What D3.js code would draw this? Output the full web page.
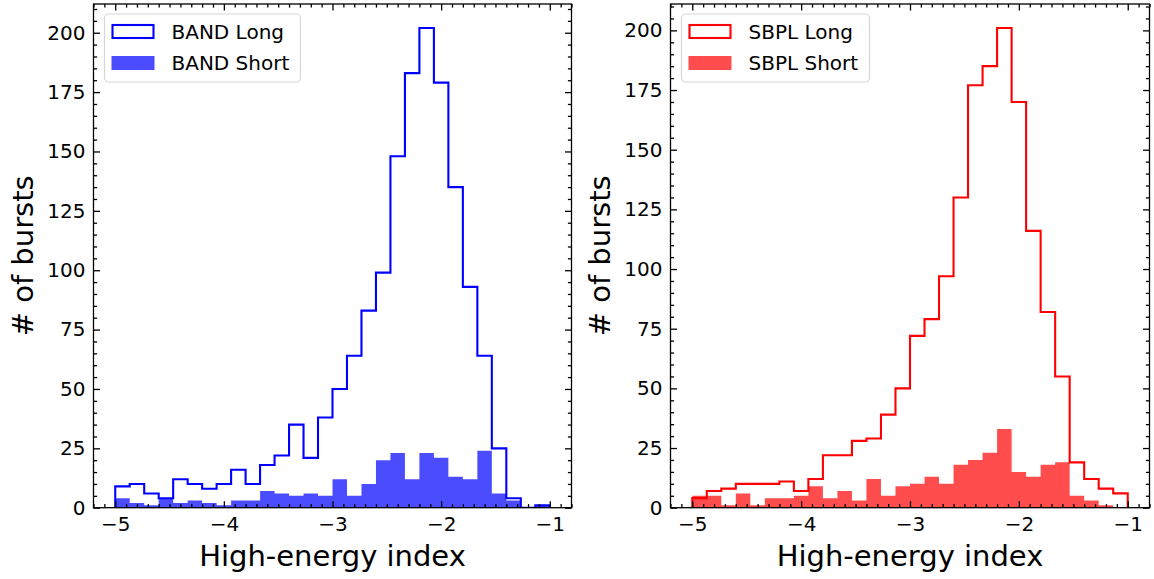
<!DOCTYPE html>
<html>
<head>
<meta charset="utf-8">
<script src="https://cdn.jsdelivr.net/npm/d3@7"></script>
<style>
  html, body { margin: 0; padding: 0; background: #ffffff; }
  svg { display: block; font-family: "DejaVu Sans", sans-serif; }
</style>
</head>
<body>
<svg id="chart" width="1154" height="579"></svg>
<script>
// Histogram binning of the high-energy spectral index
const binLo = -5;
const binHi = -1;
const binCount = 30;

// Counts per bin, BAND fits
const bandLong  = [9, 10, 6, 4, 12, 10, 8, 10, 16, 10, 18, 22, 35, 21, 38, 50, 64, 83, 99, 148, 183, 202, 179, 135, 93, 64, 25, 4, 0, 1];
const bandShort = [4, 2, 1, 4, 2, 3, 2, 1, 3, 3, 7, 6, 5, 6, 5, 12, 5, 10, 20, 23, 12, 23, 21, 13, 12, 24, 6, 3, 0, 1];

// Counts per bin, SBPL fits
const sbplLong  = [4, 7, 8, 10, 10, 10, 11, 7, 12, 22, 22, 28, 29, 39, 50, 72, 79, 97, 130, 177, 185, 201, 170, 116, 82, 55, 19, 12, 8, 6];
const sbplShort = [5, 5, 1, 6, 1, 4, 4, 5, 9, 4, 7, 3, 12, 5, 9, 10, 13, 10, 18, 20, 23, 33, 15, 13, 18, 19, 5, 3, 1, 0];

// Axis ticks and labels
const xMajorTicks = [-5, -4, -3, -2, -1];
const yMajorTicks = [0, 25, 50, 75, 100, 125, 150, 175, 200];
const xLabel = "High-energy index";
const yLabel = "# of bursts";

const svg = d3.select("#chart");
const edges = d3.range(binCount + 1).map(i => binLo + i * (binHi - binLo) / binCount);

function drawPanel(opt) {
  const { left, right, top, bottom, longData, shortData, color, shortColor, names } = opt;
  const span = binHi - binLo;
  const x = d3.scaleLinear().domain([binLo - 0.05 * span, binHi + 0.05 * span]).range([left, right]);
  const yMax = d3.max(longData.concat(shortData)) * 1.05;
  const y = d3.scaleLinear().domain([0, yMax]).range([bottom, top]);

  const g = svg.append("g");

  // clip to the plotting area
  const clipId = "clip-" + names[0].replace(/\s+/g, "");
  svg.append("defs").append("clipPath").attr("id", clipId)
    .append("rect").attr("x", left).attr("y", top).attr("width", right - left).attr("height", bottom - top);
  const plot = g.append("g").attr("clip-path", `url(#${clipId})`);

  // step outline for the long population
  const stepPts = [[edges[0], 0]];
  longData.forEach((v, i) => { stepPts.push([edges[i], v]); stepPts.push([edges[i + 1], v]); });
  stepPts.push([edges[binCount], 0]);
  plot.append("path")
    .attr("d", d3.line().x(d => x(d[0])).y(d => y(d[1]))(stepPts))
    .attr("fill", "none")
    .attr("stroke", color)
    .attr("stroke-width", 2.1)
    .attr("stroke-linejoin", "miter");

  // filled steps for the short population
  const fillPts = [];
  shortData.forEach((v, i) => { fillPts.push([edges[i], v]); fillPts.push([edges[i + 1], v]); });
  plot.append("path")
    .attr("d", d3.area().x(d => x(d[0])).y0(y(0)).y1(d => y(d[1]))(fillPts))
    .attr("fill", shortColor)
    .attr("fill-opacity", 0.7)
    .attr("stroke", "none");

  // axes with inward ticks on all four sides
  const xMinor = d3.range(-52, -7).map(v => v / 10).filter(v => !xMajorTicks.some(t => Math.abs(t - v) < 1e-9));
  const yMinor = d3.range(0, yMax, 5).filter(v => v % 25 !== 0);

  const styleAxis = sel => {
    sel.select(".domain").remove();
    sel.selectAll(".tick line").attr("stroke", "#000").attr("stroke-width", 1.3);
    sel.selectAll(".tick text").attr("fill", "#000").style("font-size", "20px").style("font-family", "DejaVu Sans, sans-serif");
  };

  g.append("g").attr("transform", `translate(0,${bottom})`)
    .call(d3.axisBottom(x).tickValues(xMajorTicks).tickSizeInner(-6.5).tickSizeOuter(0).tickPadding(9).tickFormat(d3.format("d")))
    .call(styleAxis);
  g.append("g").attr("transform", `translate(0,${bottom})`)
    .call(d3.axisBottom(x).tickValues(xMinor).tickSizeInner(-3.6).tickSizeOuter(0).tickFormat(""))
    .call(styleAxis);
  g.append("g").attr("transform", `translate(0,${top})`)
    .call(d3.axisTop(x).tickValues(xMajorTicks).tickSizeInner(-6.5).tickSizeOuter(0).tickFormat(""))
    .call(styleAxis);
  g.append("g").attr("transform", `translate(0,${top})`)
    .call(d3.axisTop(x).tickValues(xMinor).tickSizeInner(-3.6).tickSizeOuter(0).tickFormat(""))
    .call(styleAxis);

  g.append("g").attr("transform", `translate(${left},0)`)
    .call(d3.axisLeft(y).tickValues(yMajorTicks).tickSizeInner(-6.5).tickSizeOuter(0).tickPadding(8))
    .call(styleAxis);
  g.append("g").attr("transform", `translate(${left},0)`)
    .call(d3.axisLeft(y).tickValues(yMinor).tickSizeInner(-3.6).tickSizeOuter(0).tickFormat(""))
    .call(styleAxis);
  g.append("g").attr("transform", `translate(${right},0)`)
    .call(d3.axisRight(y).tickValues(yMajorTicks).tickSizeInner(-6.5).tickSizeOuter(0).tickFormat(""))
    .call(styleAxis);
  g.append("g").attr("transform", `translate(${right},0)`)
    .call(d3.axisRight(y).tickValues(yMinor).tickSizeInner(-3.6).tickSizeOuter(0).tickFormat(""))
    .call(styleAxis);

  // frame
  g.append("rect")
    .attr("x", left).attr("y", top)
    .attr("width", right - left).attr("height", bottom - top)
    .attr("fill", "none").attr("stroke", "#000").attr("stroke-width", 1.3);

  // axis titles
  g.append("text")
    .attr("x", (left + right) / 2).attr("y", 566)
    .attr("text-anchor", "middle")
    .style("font-size", "29px")
    .text(xLabel);
  g.append("text")
    .attr("transform", `translate(${left - 61},${(top + bottom) / 2}) rotate(-90)`)
    .attr("text-anchor", "middle")
    .style("font-size", "29px")
    .text(yLabel);

  // legend
  const lx = left + 11, ly = 14;
  const legend = g.append("g");
  legend.append("rect")
    .attr("x", lx).attr("y", ly)
    .attr("width", opt.legendWidth).attr("height", 68)
    .attr("rx", 4).attr("ry", 4)
    .attr("fill", "#fff").attr("fill-opacity", 0.8)
    .attr("stroke", "#d6d6d6").attr("stroke-width", 1.2);
  legend.append("rect")
    .attr("x", lx + 8).attr("y", ly + 11)
    .attr("width", 41).attr("height", 13)
    .attr("fill", "none").attr("stroke", color).attr("stroke-width", 2.1);
  legend.append("rect")
    .attr("x", lx + 7).attr("y", ly + 42)
    .attr("width", 43).attr("height", 14)
    .attr("fill", shortColor).attr("fill-opacity", 0.7);
  legend.append("text")
    .attr("x", lx + 67).attr("y", ly + 25)
    .style("font-size", "20px")
    .text(names[0]);
  legend.append("text")
    .attr("x", lx + 67).attr("y", ly + 56)
    .style("font-size", "20px")
    .text(names[1]);
}

drawPanel({
  left: 93.5, right: 571.5, top: 4, bottom: 507.7,
  longData: bandLong, shortData: bandShort,
  color: "#0000ff", shortColor: "#0000ff",
  names: ["BAND Long", "BAND Short"],
  legendWidth: 196
});

drawPanel({
  left: 670.5, right: 1149.5, top: 4, bottom: 507.7,
  longData: sbplLong, shortData: sbplShort,
  color: "#ff0000", shortColor: "#ff0000",
  names: ["SBPL Long", "SBPL Short"],
  legendWidth: 188
});
</script>
</body>
</html>
